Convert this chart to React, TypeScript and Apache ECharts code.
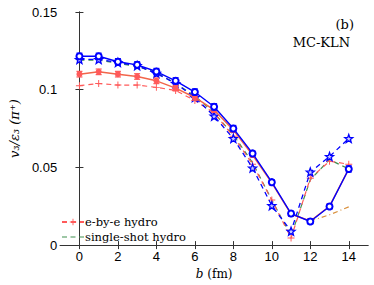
import React, { useEffect, useRef } from "react";
import * as echarts from "echarts";

const bValues = [0, 1, 2, 3, 4, 5, 6, 7, 8, 9, 10, 11, 12, 13, 14];
const blueSolid = [0.1215, 0.1215, 0.118, 0.116, 0.1117, 0.1057, 0.0985, 0.089, 0.075, 0.059, 0.0405, 0.0203, 0.0152, 0.0248, 0.049];
const blueErr = [0.002, 0.002, 0.002, 0.002, 0.002, 0.002, 0.002, 0.002, 0.002, 0.0015, 0.0015, 0.0015, 0.0015, 0.0015, 0.002];
const redSolid = [0.11, 0.1115, 0.11, 0.1085, 0.1057, 0.101, 0.095, 0.087, 0.074, 0.058, 0.04, 0.02, 0.0155, 0.025, 0.049];
const redErr = [0.0018, 0.0018, 0.0018, 0.0018, 0.0018, 0.0018, 0.0018, 0.0015, 0.0015, 0.0015, 0.0015, 0.0015, 0.0015, 0.0015, 0.0015];
const eByE = [0.1026, 0.104, 0.103, 0.103, 0.1015, 0.0995, 0.093, 0.085, 0.07, 0.052, 0.029, 0.0045, 0.043, 0.054, 0.052];
const singleShot = [0.119, 0.119, 0.117, 0.115, 0.111, 0.104, 0.096, 0.085, 0.071, 0.053, 0.029, 0.006, 0.042, 0.055, 0.049];
const blueStar = [0.1195, 0.1195, 0.1175, 0.1155, 0.1105, 0.104, 0.095, 0.083, 0.0686, 0.0496, 0.0254, 0.0089, 0.047, 0.057, 0.0686];
const orangeB = [12, 13, 14];
const orangeDashDot = [0.0155, 0.0195, 0.0246];
const xTicks = [0, 2, 4, 6, 8, 10, 12, 14];
const yTicks = [0, 0.05, 0.1, 0.15];

const BLUE = "#0000ff";
const RED = "#ff5a5a";
const REDLINE = "#f2654a";
const GREEN = "#3f8f4f";
const ORANGE = "#d9913f";
const AXIS = "#333333";

function starPath(): string {
  const pts: string[] = [];
  for (let i = 0; i < 10; i++) {
    const r = i % 2 === 0 ? 1 : 0.42;
    const a = -Math.PI / 2 + (i * Math.PI) / 5;
    pts.push(`${(r * Math.cos(a)).toFixed(3)},${(r * Math.sin(a)).toFixed(3)}`);
  }
  return "path://M" + pts.join("L") + "Z";
}
const PLUS = "path://M-1,-0.14L1,-0.14L1,0.14L-1,0.14Z M-0.14,-1L0.14,-1L0.14,1L-0.14,1Z";
const DASH_ICON =
  "path://M0,0L0.01,0L0.01,0.01Z M22,8L21.99,8L21.99,7.99Z M0,3.4H5V4.6H0Z M8.5,3.4H13.5V4.6H8.5Z M17,3.4H22V4.6H17Z";

const zip = (xs: number[], ys: number[]) => xs.map((x, i) => [x, ys[i]]);
const zip3 = (xs: number[], ys: number[], es: number[]) => xs.map((x, i) => [x, ys[i], es[i]]);

function errRender(color: string) {
  return (params: any, api: any) => {
    const x = api.value(0);
    const y = api.value(1);
    const e = api.value(2);
    const t = api.coord([x, y + e]);
    const b = api.coord([x, y - e]);
    const w = 3;
    const style = { stroke: color, lineWidth: 1.2 };
    return {
      type: "group",
      children: [
        { type: "line", shape: { x1: t[0], y1: t[1], x2: b[0], y2: b[1] }, style },
        { type: "line", shape: { x1: t[0] - w, y1: t[1], x2: t[0] + w, y2: t[1] }, style },
        { type: "line", shape: { x1: b[0] - w, y1: b[1], x2: b[0] + w, y2: b[1] }, style },
      ],
    };
  };
}

export default function App() {
  const ref = useRef<HTMLDivElement>(null);
  useEffect(() => {
    if (!ref.current) return;
    const chart = echarts.init(ref.current, undefined, { renderer: "svg" });
    const tickFont = { fontFamily: "Liberation Sans", fontSize: 13, color: "#000" };
    const baseAxis = {
      axisLine: { show: true, lineStyle: { color: AXIS, width: 1 } },
      axisTick: { show: true, inside: true, length: 4, lineStyle: { color: AXIS } },
      splitLine: { show: false },
    };
    chart.setOption({
      animation: false,
      backgroundColor: "#fff",
      grid: { left: 51, top: 12, right: 6, bottom: 37 },
      legend: {
        data: [{ name: "e-by-e hydro" }, { name: "single-shot hydro", icon: DASH_ICON }],
        orient: "vertical",
        left: 56,
        top: 211,
        itemWidth: 22,
        itemHeight: 8,
        itemGap: 3,
        textStyle: { fontFamily: "DejaVu Serif", fontSize: 11.5, color: "#000", padding: [0, 0, 0, -4] },
      },
      xAxis: [
        {
          type: "value",
          min: -1,
          max: 15,
          ...baseAxis,
          axisTick: { ...baseAxis.axisTick, customValues: xTicks },
          axisLabel: { ...tickFont, customValues: xTicks, margin: 5 },
          name: "{i|b} (fm)",
          nameLocation: "middle",
          nameGap: 22,
          nameTextStyle: {
            fontFamily: "DejaVu Serif",
            fontSize: 12,
            color: "#000",
            rich: { i: { fontFamily: "DejaVu Serif", fontStyle: "italic", fontSize: 12, color: "#000" } },
          },
        },
        {
          type: "value",
          position: "top",
          min: -1,
          max: 15,
          ...baseAxis,
          axisTick: { ...baseAxis.axisTick, customValues: xTicks },
          axisLabel: { show: false },
        },
      ],
      yAxis: [
        {
          type: "value",
          min: 0,
          max: 0.15,
          ...baseAxis,
          axisTick: { ...baseAxis.axisTick, customValues: yTicks },
          axisLabel: { ...tickFont, customValues: yTicks, margin: 3, formatter: (v: number) => String(+v.toFixed(2)) },
          name: "v\u2083/\u03b5\u2083 (\u03c0\u207a)",
          nameLocation: "middle",
          nameGap: 38,
          nameRotate: 90,
          nameTextStyle: { fontFamily: "DejaVu Serif", fontStyle: "italic", fontSize: 13, color: "#000" },
        },
        {
          type: "value",
          position: "right",
          min: 0,
          max: 0.15,
          ...baseAxis,
          axisTick: { ...baseAxis.axisTick, customValues: yTicks },
          axisLabel: { show: false },
        },
      ],
      graphic: [
        { type: "text", right: 20, top: 18, style: { text: "(b)", font: "13px 'DejaVu Serif'", fill: "#000" } },
        { type: "text", right: 24, top: 36, style: { text: "MC-KLN", font: "13px 'DejaVu Serif'", fill: "#000" } },
      ],
      series: [
        {
          name: "orange",
          type: "line",
          data: zip(orangeB, orangeDashDot),
          symbol: "none",
          lineStyle: { color: ORANGE, width: 1.2, type: [5, 3, 1, 3] },
          z: 2,
        },
        {
          name: "single-shot hydro",
          type: "line",
          data: zip(bValues, singleShot),
          symbol: "none",
          itemStyle: { color: GREEN },
          lineStyle: { color: GREEN, width: 1.2, type: [5, 4] },
          z: 3,
        },
        {
          name: "e-by-e hydro",
          type: "line",
          data: zip(bValues, eByE),
          symbol: PLUS,
          symbolSize: 7,
          itemStyle: { color: RED },
          lineStyle: { color: RED, width: 1.2, type: [5, 4] },
          z: 4,
        },
        {
          name: "blue star",
          type: "line",
          data: zip(bValues, blueStar),
          symbol: starPath(),
          symbolSize: 8,
          itemStyle: { color: "#c8c8ff", borderColor: BLUE, borderWidth: 1.3 },
          lineStyle: { color: BLUE, width: 1.3, type: [5, 4] },
          z: 5,
        },
        {
          name: "red solid",
          type: "line",
          data: zip(bValues, redSolid),
          symbol: "circle",
          symbolSize: 6,
          itemStyle: { color: RED },
          lineStyle: { color: REDLINE, width: 1.5 },
          z: 6,
        },
        {
          name: "red err",
          type: "custom",
          renderItem: errRender(RED),
          data: zip3(bValues, redSolid, redErr),
          z: 6,
        },
        {
          name: "blue solid",
          type: "line",
          data: zip(bValues, blueSolid),
          symbol: "emptyCircle",
          symbolSize: 6,
          itemStyle: { color: BLUE, borderWidth: 1.5 },
          lineStyle: { color: BLUE, width: 1.4 },
          z: 7,
        },
        {
          name: "blue err",
          type: "custom",
          renderItem: errRender(BLUE),
          data: zip3(bValues, blueSolid, blueErr),
          z: 7,
        },
      ],
    });
    return () => chart.dispose();
  }, []);
  return <div ref={ref} style={{ width: 374, height: 285, position: "absolute", left: 0, top: 0 }} />;
}
